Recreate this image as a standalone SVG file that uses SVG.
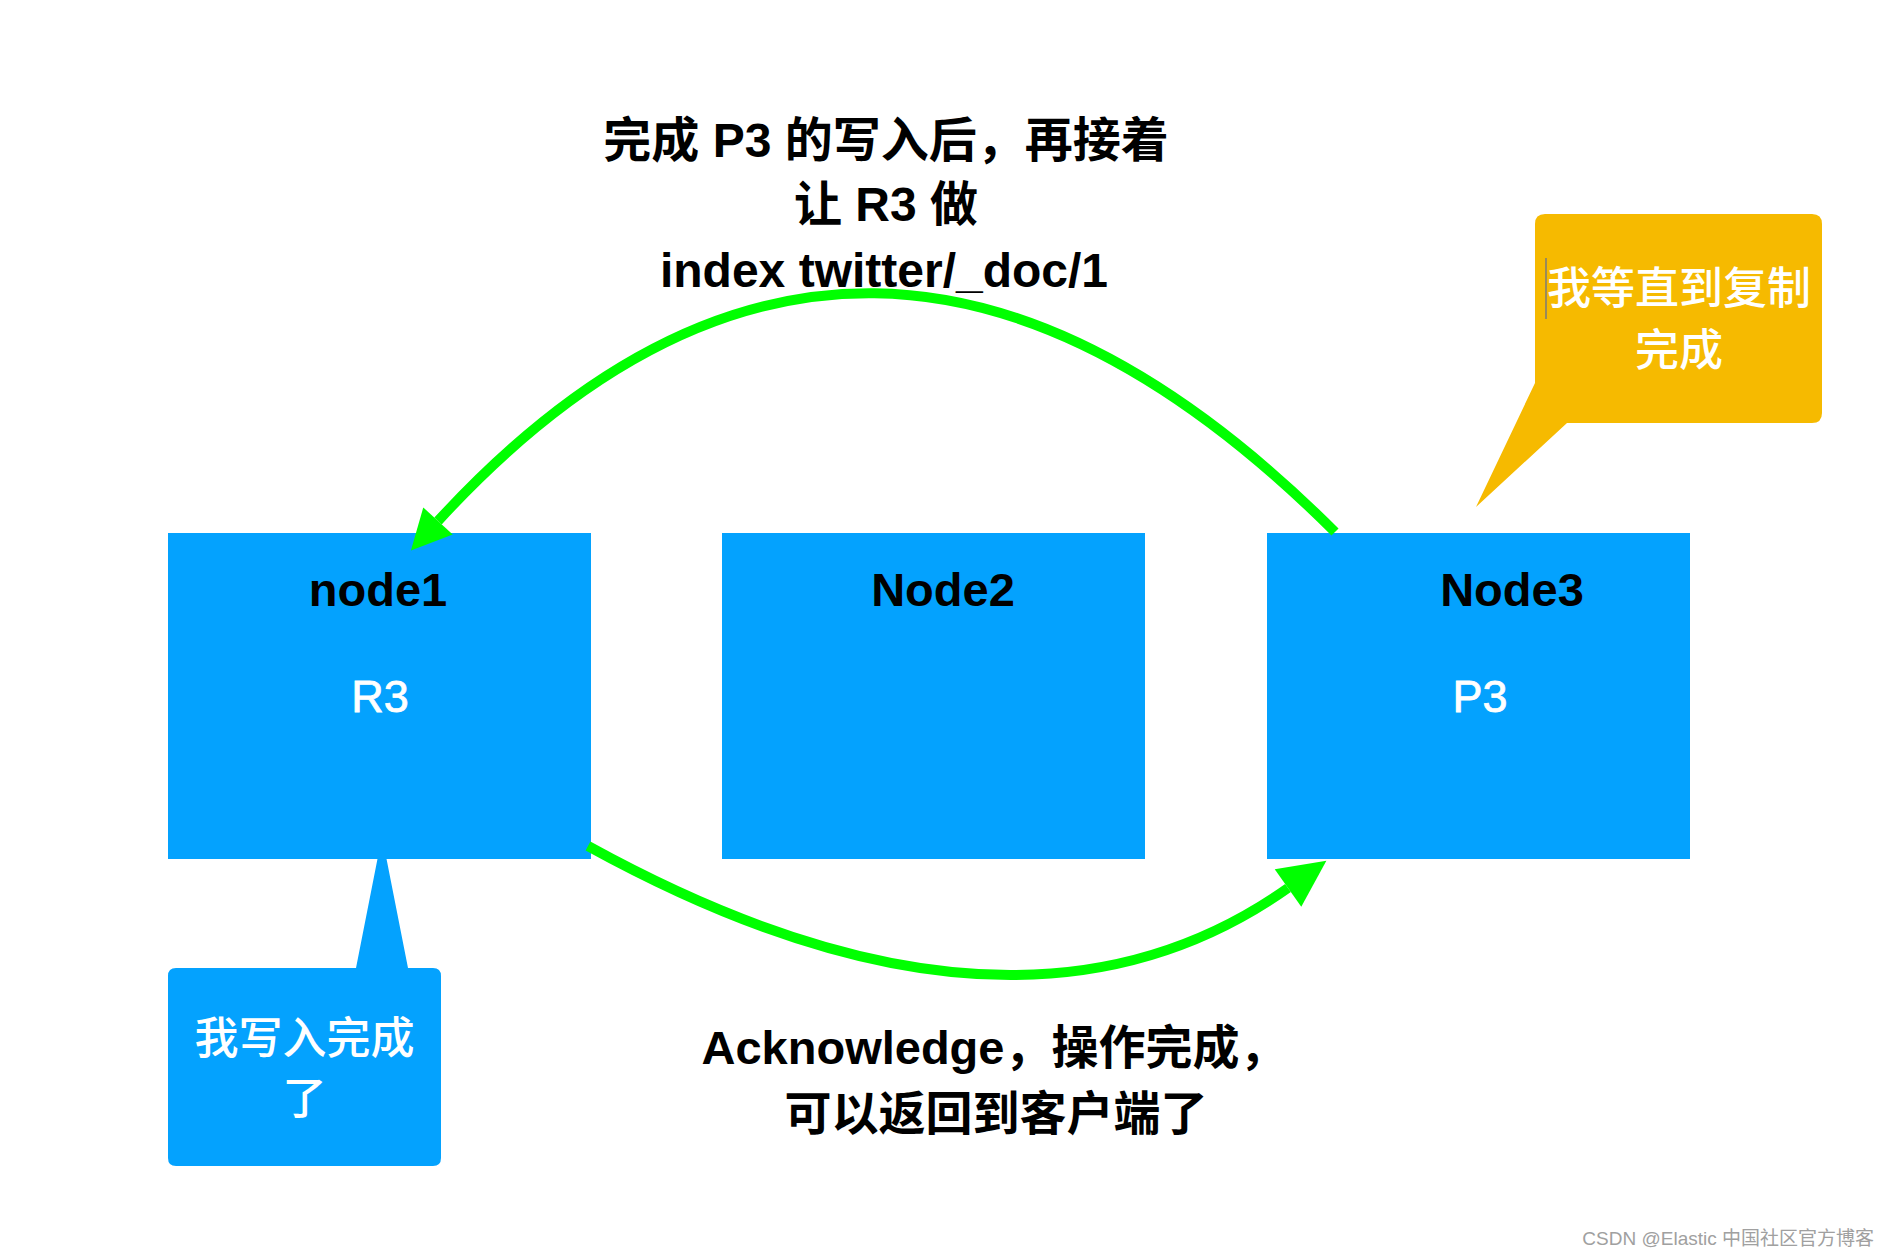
<svg xmlns="http://www.w3.org/2000/svg" width="1888" height="1258" viewBox="0 0 1888 1258">
  <style>
    .node { fill: #04A2FE; }
    .title { font-family: "Liberation Sans", "Noto Sans CJK SC", sans-serif; font-weight: bold; font-size: 47px; fill: #000; text-anchor: middle; }
    .shard { font-family: "Liberation Sans", "Noto Sans CJK SC", sans-serif; font-size: 45px; fill: #fff; text-anchor: middle; stroke: #fff; stroke-width: 0.8px; }
    .label { font-family: "Liberation Sans", "Noto Sans CJK SC", sans-serif; font-weight: bold; fill: #000; text-anchor: middle; }
    .note { font-family: "Noto Sans CJK SC", sans-serif; font-weight: 500; font-size: 44px; fill: #fff; text-anchor: middle; }
    .edge { fill: none; stroke: #00FF00; stroke-width: 10; }
    .wm { font-family: "Liberation Sans", "Noto Sans CJK SC", sans-serif; font-size: 19px; fill: #a0a0a0; text-anchor: end; }
  </style>
  <defs>
    <marker id="arrowS" markerUnits="userSpaceOnUse" markerWidth="40" markerHeight="40" refX="0" refY="20" orient="auto" overflow="visible">
      <path d="M0,0 L40,20 L0,40 Z" fill="#00FF00"/>
    </marker>
    <marker id="arrowL" markerUnits="userSpaceOnUse" markerWidth="47" markerHeight="46" refX="0" refY="23" orient="auto" overflow="visible">
      <path d="M0,0 L47,23 L0,46 Z" fill="#00FF00"/>
    </marker>
  </defs>
  <rect width="1888" height="1258" fill="#fff"/>

  <g id="callout-write-done">
    <path d="M176,968 L356,968 L382,836 L408,968 L433,968 Q441,968 441,976 L441,1158 Q441,1166 433,1166 L176,1166 Q168,1166 168,1158 L168,976 Q168,968 176,968 Z" fill="#04A2FE"/>
    <text class="note" x="304.5" y="1054">我写入完成</text>
    <text class="note" x="304.5" y="1114">了</text>
  </g>

  <g id="callout-wait">
    <path d="M1545,214 L1812,214 Q1822,214 1822,224 L1822,413 Q1822,423 1812,423 L1567,423 L1476,507 L1535,383 L1535,224 Q1535,214 1545,214 Z" fill="#F6BA00"/>
    <line x1="1546" y1="258" x2="1546" y2="319" stroke="#7a7a7a" stroke-width="1.5"/>
    <text class="note" x="1679" y="304">我等直到复制</text>
    <text class="note" x="1679" y="366">完成</text>
  </g>

  <g id="node1">
    <rect class="node" x="168" y="533" width="423" height="326"/>
    <text class="title" x="378" y="606">node1</text>
    <text class="shard" x="380" y="712">R3</text>
  </g>

  <g id="node2">
    <rect class="node" x="722" y="533" width="423" height="326"/>
    <text class="title" x="943" y="606">Node2</text>
  </g>

  <g id="node3">
    <rect class="node" x="1267" y="533" width="423" height="326"/>
    <text class="title" x="1512" y="606">Node3</text>
    <text class="shard" x="1480" y="712">P3</text>
  </g>

  <g id="connectors">
    <path class="edge" d="M1335,532 Q862,60 438,521" marker-end="url(#arrowS)"/>
    <path class="edge" d="M588,846 Q1015,1081 1288,888" marker-end="url(#arrowL)"/>
  </g>

  <g id="label-top">
    <text class="label" font-size="48" x="886" y="157">完成 P3 的写入后，再接着</text>
    <text class="label" font-size="48" x="886" y="221">让 R3 做</text>
    <text class="label" font-size="48" x="884" y="287">index twitter/_doc/1</text>
  </g>

  <g id="label-bottom">
    <text class="label" font-size="47" x="994" y="1064">Acknowledge，操作完成，</text>
    <text class="label" font-size="47" x="996" y="1130">可以返回到客户端了</text>
  </g>

  <text class="wm" x="1874" y="1245">CSDN @Elastic 中国社区官方博客</text>
</svg>
